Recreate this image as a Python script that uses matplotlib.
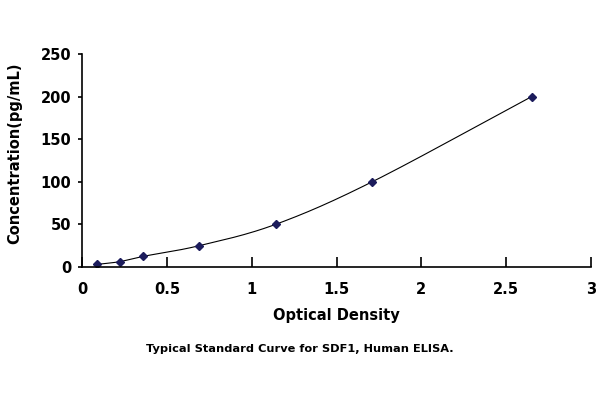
import matplotlib
matplotlib.use("Agg")
import matplotlib.pyplot as plt
import numpy as np

od = [0.09, 0.22, 0.36, 0.69, 1.14, 1.71, 2.65]
conc = [3.125, 6.25, 12.5, 25, 50, 100, 200]
x_ticks = [0, 0.5, 1, 1.5, 2, 2.5, 3]
y_ticks = [0, 50, 100, 150, 200, 250]


def smooth_line(x, y, n=30):
    # Catmull-Rom, roughly what the spreadsheet "smoothed line" does
    x = np.asarray(x, float); y = np.asarray(y, float)
    px = np.concatenate([[2 * x[0] - x[1]], x, [2 * x[-1] - x[-2]]])
    py = np.concatenate([[2 * y[0] - y[1]], y, [2 * y[-1] - y[-2]]])
    t = np.linspace(0, 1, n)[:, None]
    xs, ys = [], []
    for i in range(1, len(px) - 2):
        for p, out in ((px, xs), (py, ys)):
            p0, p1, p2, p3 = p[i - 1], p[i], p[i + 1], p[i + 2]
            seg = 0.5 * (2 * p1 + (-p0 + p2) * t + (2 * p0 - 5 * p1 + 4 * p2 - p3) * t ** 2
                         + (-p0 + 3 * p1 - 3 * p2 + p3) * t ** 3)
            out.append(seg.ravel())
    return np.concatenate(xs), np.concatenate(ys)


plt.rcParams["font.family"] = ["DejaVu Sans"]
plt.rcParams["font.weight"] = "bold"

fig = plt.figure(figsize=(6, 4), dpi=100)
ax = fig.add_axes([0.137, 0.3325, 0.848, 0.5325])

sx, sy = smooth_line(od, conc)
ax.plot(sx, sy, color="black", lw=0.8)
ax.plot(od, conc, linestyle="none", marker="D", ms=3.8, color="#1c1c5c")

ax.set_xlim(0, 3)
ax.set_ylim(0, 250)
ax.set_xticks(x_ticks)
ax.set_xticklabels([f"{v:g}" for v in x_ticks])
ax.set_yticks(y_ticks)
for s in ("top", "right"):
    ax.spines[s].set_visible(False)
for s in ("left", "bottom"):
    ax.spines[s].set_linewidth(1.2)
ax.tick_params(axis="x", direction="in", length=7, width=1.2, labelsize=10.5, pad=11)
ax.tick_params(axis="y", direction="out", length=3, width=1.2, labelsize=10.5, pad=5)
ax.set_xlabel("Optical Density", fontsize=10.5, fontweight="bold", labelpad=8)
ax.set_ylabel("Concentration(pg/mL)", fontsize=10.5, fontweight="bold", labelpad=13, y=0.535)

fig.text(0.5, 0.12, "Typical Standard Curve for SDF1, Human ELISA.", ha="center",
         fontsize=8.2, fontweight="bold")

fig.savefig("out.png", dpi=100)
